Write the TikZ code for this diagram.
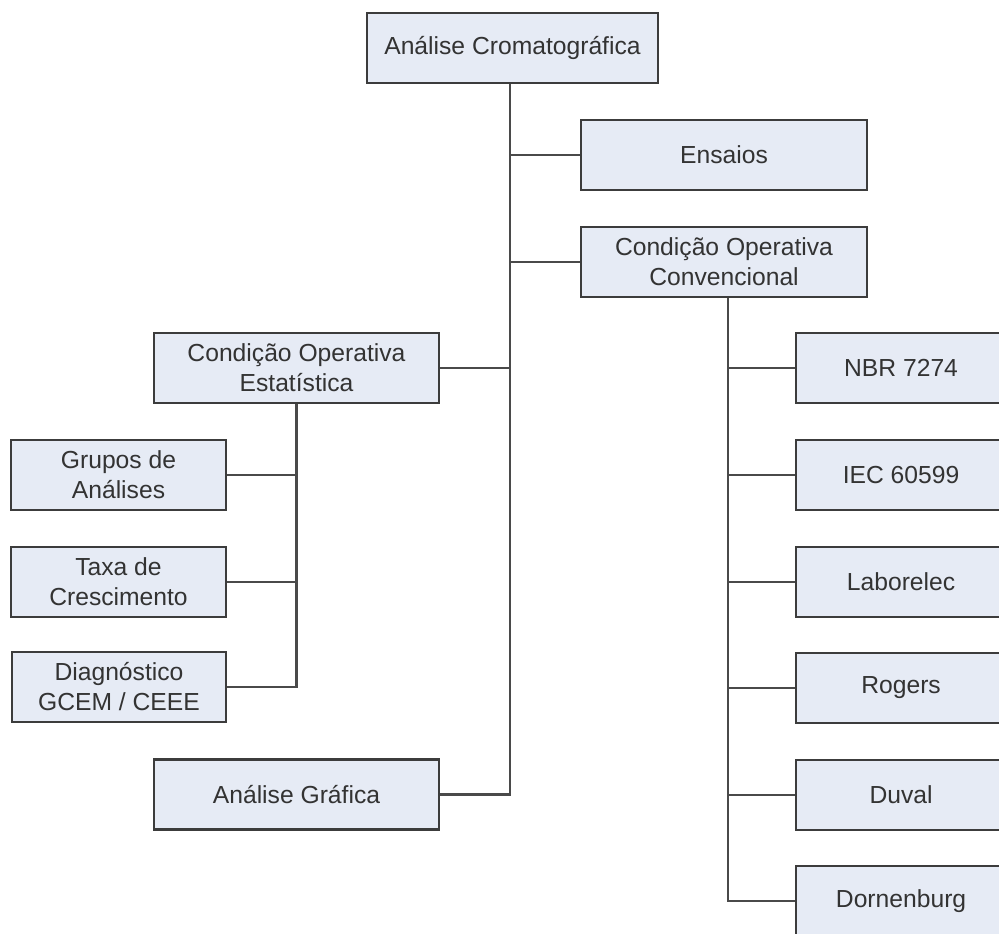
\documentclass[tikz,border=0pt]{standalone}
\usepackage{fontspec}
\setmainfont{Liberation Sans}
\definecolor{boxfill}{HTML}{E6EBF5}
\definecolor{boxedge}{HTML}{3C3C3C}
\definecolor{linkcol}{HTML}{4A4A4A}
\definecolor{txtcol}{HTML}{333333}
\begin{document}
\begin{tikzpicture}[x=0.75pt,y=-0.75pt,
  box/.style={draw=boxedge, fill=boxfill, line width=1.6pt, rectangle,
    minimum height=52.5pt, align=center, inner sep=0pt, text=txtcol,
    font=\fontsize{18.5}{22.5}\selectfont},
  wide/.style={box, minimum width=214pt},
  narrow/.style={box, minimum width=161pt},
  side/.style={box, minimum width=225pt, anchor=west},
  link/.style={draw=linkcol, line width=1.6pt}]
\useasboundingbox (0,0) rectangle (999,933);

% top level
\node[box, minimum width=218pt] (root) at (512.5,48) {Análise Cromatográfica};
\node[wide] (ens)  at (724,155) {Ensaios};
\node[wide] (conv) at (724,262) {Condição Operativa\\Convencional};
\node[wide] (est)  at (296.5,368) {Condição Operativa\\Estatística};
\node[wide] (graf) at (296.5,794.5) {Análise Gráfica};

% statistical branch
\node[narrow] (grp)  at (118.5,475) {Grupos de\\Análises};
\node[narrow] (taxa) at (118.5,582) {Taxa de\\Crescimento};
\node[narrow] (diag) at (119,687) {Diagnóstico\\GCEM / CEEE};

% conventional branch: the boxes run on past the right edge
\newcommand{\sidetext}[1]{#1\hspace*{67.5pt}}
\node[side] (nbr)  at (795,368) {\sidetext{NBR 7274}};
\node[side] (iec)  at (795,475) {\sidetext{IEC 60599}};
\node[side] (lab)  at (795,582) {\sidetext{Laborelec}};
\node[side] (rog)  at (795,688) {\sidetext{Rogers}};
\node[side] (duv)  at (795,795) {\sidetext{Duval}};
\node[side] (dorn) at (795,901) {\sidetext{Dornenburg}};

% trunk positions
\coordinate (tmain) at (510,0);
\coordinate (tconv) at (728,0);

% main trunk
\draw[link] (root.south -| tmain) |- (graf.east);
\foreach \n in {ens,conv} \draw[link] (\n.west) -- (\n.west -| tmain);
\draw[link] (est.east) -- (est.east -| tmain);

% statistical trunk
\draw[link] (est.south) |- (diag.east);
\foreach \n in {grp,taxa} \draw[link] (\n.east) -- (\n.east -| est.south);

% conventional trunk
\draw[link] (conv.south -| tconv) |- (dorn.west);
\foreach \n in {nbr,iec,lab,rog,duv} \draw[link] (\n.west) -- (\n.west -| tconv);
\end{tikzpicture}
\end{document}
